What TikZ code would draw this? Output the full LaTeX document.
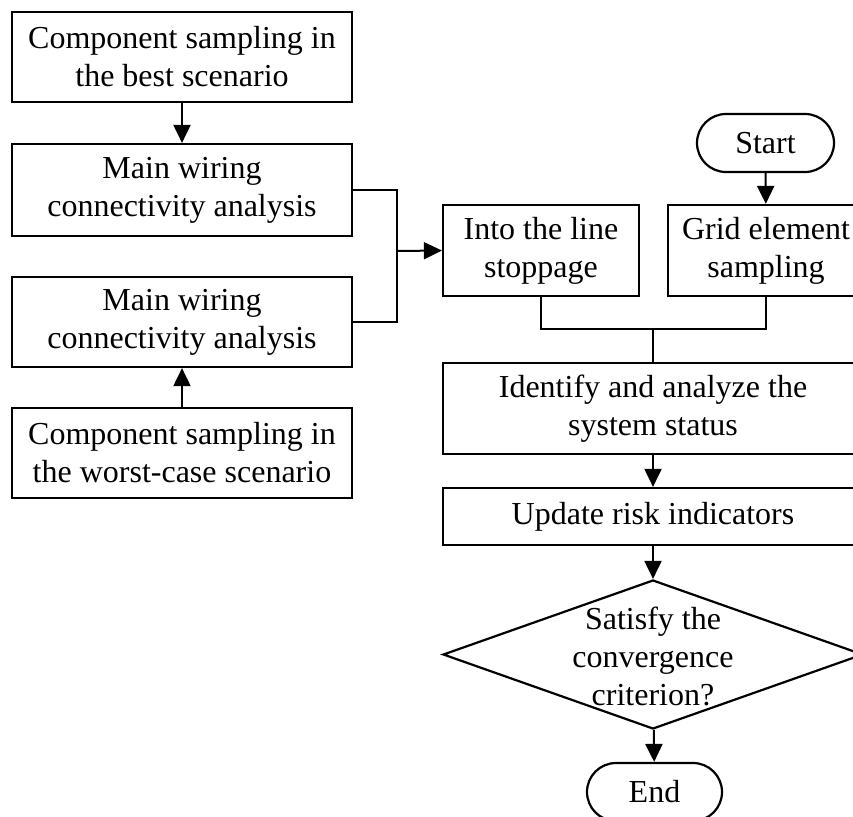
\documentclass[tikz,border=0pt]{standalone}
\usepackage{fontspec}
\setmainfont{Liberation Serif}
\usetikzlibrary{positioning,arrows.meta,shapes.geometric}

\begin{document}
\begin{tikzpicture}[
  x=1pt, y=-1pt,
  font=\fontsize{32}{38}\selectfont,
  b/.style={draw, line width=2.2pt, align=center, inner sep=0pt, minimum width=340pt, minimum height=90pt},
  r/.style={b, minimum width=196pt, minimum height=91pt},
  w/.style={b, minimum width=420pt, minimum height=91pt},
  t/.style={draw, line width=2.2pt, align=center, inner sep=0pt, minimum height=58pt, rounded corners=29pt},
  d/.style={draw, line width=2.2pt, diamond, inner sep=0pt, minimum width=420pt, minimum height=149pt},
  arr/.style={-{Triangle[length=18pt, width=17pt]}, line width=2pt},
  ln/.style={line width=2pt}]

\useasboundingbox (0,0) rectangle (853,816);

% left column
\node[b] (best) at (182,57) {Component sampling in\\the best scenario};
\node[b, minimum height=92pt] (wire1) at (182,190) {Main wiring\\connectivity analysis};
\node[b] (wire2) at (182,322) {Main wiring\\connectivity analysis};
\node[b] (worst) at (182,453) {Component sampling in\\the worst-case scenario};

% right column
\node[t, minimum width=137pt] (start) at (765.5,143) {Start};
\node[r] (into) at (541,250.5) {Into the line\\stoppage};
\node[r] (grid) at (766,250.5) {Grid element\\sampling};
\node[w] (ident) at (653,408.5) {Identify and analyze the\\system status};
\node[w, minimum height=57pt] (upd) at (653,516.5) {Update risk indicators};
\node[d] (conv) at (653,654.5) {};
\node[align=center, inner sep=0pt] (convtxt) at (653,656) {Satisfy the\\convergence\\criterion?};
\node[t, minimum width=135pt] (stop) at (654.5,792) {End};

\coordinate (jn) at (397,251);
\coordinate (mg) at (653,329);

\draw[arr] (best) -- (wire1);
\draw[arr] (worst) -- (wire2);
\draw[ln] (wire1.east) -| (jn);
\draw[ln] (wire2.east) -| (jn);
\draw[arr] (jn) -- (into.west);
\draw[arr] (start) -- (grid);
\draw[ln] (into.south) |- (mg);
\draw[ln] (grid.south) |- (mg);
\draw[ln] (mg) -- (ident.north);
\draw[arr] (ident) -- (upd);
\draw[arr] (upd) -- (conv);
\draw[arr] (conv) -- (stop);
\end{tikzpicture}
\end{document}
